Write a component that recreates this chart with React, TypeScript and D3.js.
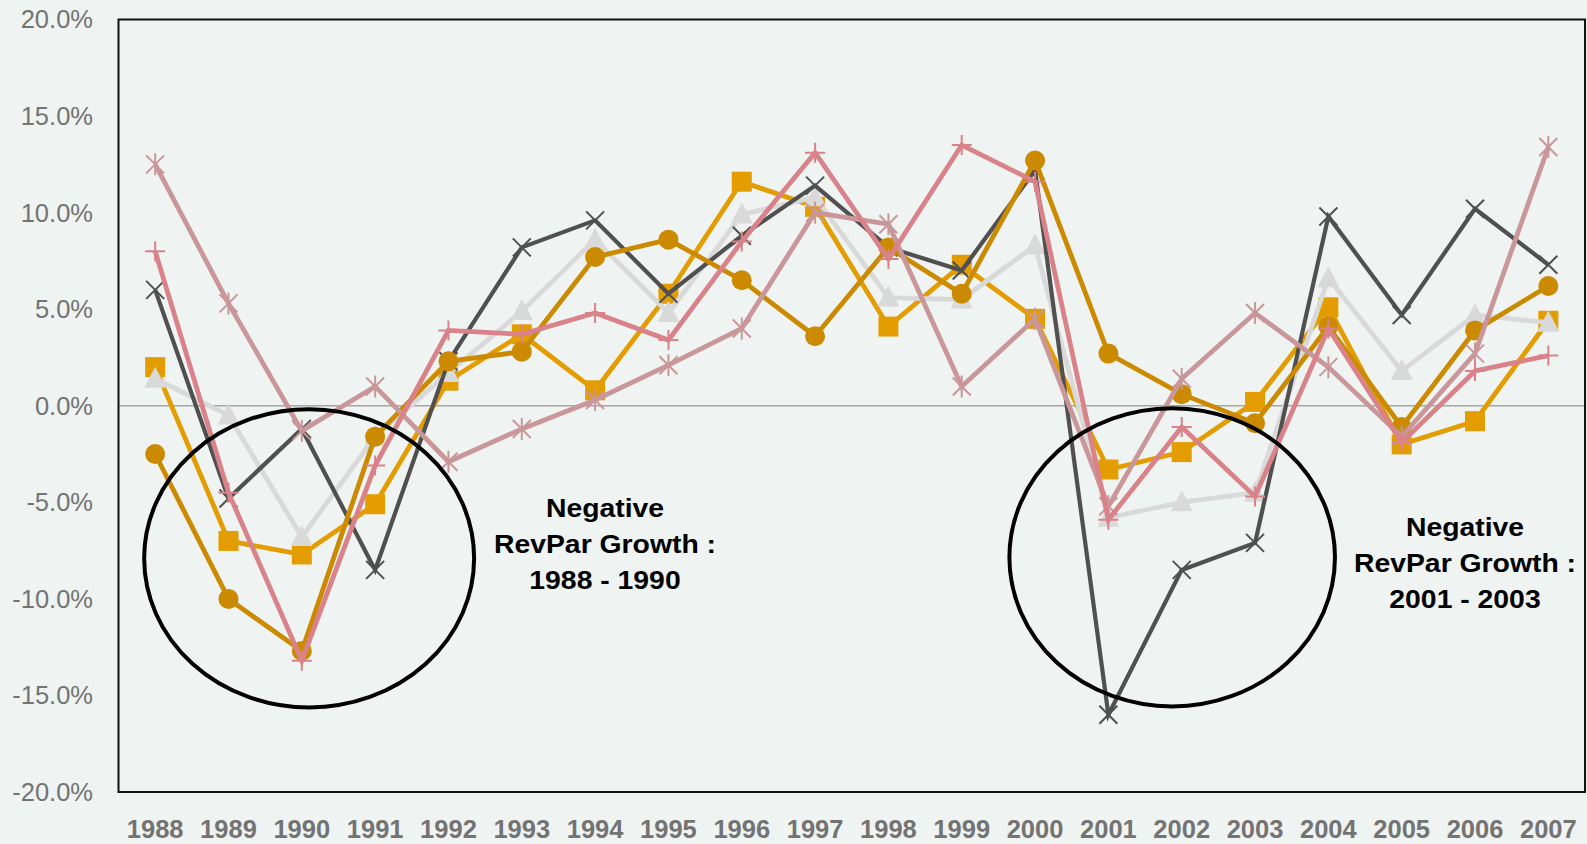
import React from "react";
import * as d3 from "d3";

const years = ["1988","1989","1990","1991","1992","1993","1994","1995","1996","1997","1998","1999","2000","2001","2002","2003","2004","2005","2006","2007"];
const yTicks = [-20, -15, -10, -5, 0, 5, 10, 15, 20];

const seriesDarkGray = [6.0, -4.8, -1.2, -8.5, 2.3, 8.2, 9.6, 5.8, 8.8, 11.4, 8.2, 7.0, 12.2, -16.0, -8.5, -7.1, 9.8, 4.7, 10.2, 7.3];
const seriesLightGray = [1.4, -0.5, -6.8, -1.6, 1.7, 4.9, 8.6, 4.8, 9.9, 10.8, 5.6, 5.5, 8.3, -5.8, -5.0, -4.5, 6.6, 1.8, 4.7, 4.3];
const seriesOrange = [2.0, -7.0, -7.7, -5.1, 1.3, 3.7, 0.8, 5.8, 11.6, 10.3, 4.1, 7.3, 4.5, -3.3, -2.4, 0.2, 5.1, -2.0, -0.8, 4.4];
const seriesGold = [-2.5, -10.0, -12.7, -1.6, 2.3, 2.8, 7.7, 8.6, 6.5, 3.6, 8.2, 5.8, 12.7, 2.7, 0.6, -0.9, 4.1, -1.1, 3.9, 6.2];
const seriesPink = [8.0, -4.5, -13.2, -3.1, 3.9, 3.7, 4.8, 3.4, 8.5, 13.1, 7.6, 13.5, 11.6, -5.9, -1.1, -4.7, 4.0, -1.9, 1.8, 2.6];
const seriesMauve = [12.5, 5.3, -1.3, 1.0, -2.9, -1.2, 0.3, 2.1, 4.0, 10.0, 9.4, 1.0, 4.5, -5.2, 1.4, 4.8, 2.0, -1.6, 2.7, 13.4];

const annotationLines1 = ["Negative", "RevPar Growth :", "1988 - 1990"];
const annotationLines2 = ["Negative", "RevPar Growth :", "2001 - 2003"];

const W = 1587, H = 844;
const L = 118.5, R = 1585, T = 19.5, B = 792;

type Marker = "x" | "triangle" | "square" | "circle" | "plus" | "asterisk";
const series: { values: number[]; color: string; marker: Marker; width: number }[] = [
  { values: seriesOrange, color: "#e39d00", marker: "square", width: 4.8 },
  { values: seriesLightGray, color: "#d9d9d9", marker: "triangle", width: 4.8 },
  { values: seriesDarkGray, color: "#505050", marker: "x", width: 4.2 },
  { values: seriesGold, color: "#cc8a00", marker: "circle", width: 4.8 },
  { values: seriesMauve, color: "#c9979a", marker: "asterisk", width: 4.8 },
  { values: seriesPink, color: "#d98289", marker: "plus", width: 4.8 },
];

function MarkerShape({ type, cx, cy, color }: { type: Marker; cx: number; cy: number; color: string }) {
  const s = 10;
  switch (type) {
    case "circle":
      return <circle cx={cx} cy={cy} r={10} fill={color} />;
    case "square":
      return <rect x={cx - 10} y={cy - 10} width={20} height={20} fill={color} />;
    case "triangle":
      return <path d={`M${cx},${cy - 12}L${cx + 11},${cy + 9}L${cx - 11},${cy + 9}Z`} fill={color} />;
    case "x":
      return (
        <path d={`M${cx - 9},${cy - 9}L${cx + 9},${cy + 9}M${cx - 9},${cy + 9}L${cx + 9},${cy - 9}`} stroke={color} strokeWidth={2} fill="none" />
      );
    case "plus":
      return (
        <path d={`M${cx - s},${cy}L${cx + s},${cy}M${cx},${cy - s}L${cx},${cy + s}`} stroke={color} strokeWidth={2} fill="none" />
      );
    case "asterisk":
      return (
        <path d={`M${cx - 9},${cy - 9}L${cx + 9},${cy + 9}M${cx - 9},${cy + 9}L${cx + 9},${cy - 9}M${cx},${cy - 11}L${cx},${cy + 11}`} stroke={color} strokeWidth={2} fill="none" />
      );
  }
  return null;
}

export default function App() {
  const x = d3.scaleBand<string>().domain(years).range([L, R]).padding(0);
  const bw = x.bandwidth();
  const xc = (yr: string) => (x(yr) as number) + bw / 2;
  const xi = (idx: number) => (x(years[0]) as number) + bw / 2 + idx * bw;
  const y = d3.scaleLinear().domain([-20, 20]).range([B, T]);
  const fmt = (t: number) => d3.format(".1f")(t).replace("\u2212", "-") + "%";

  const line = d3
    .line<number>()
    .x((_, i) => xc(years[i]))
    .y((d) => y(d));

  const ellipses = [
    { ci: 2.1, cv: -7.9, ri: 2.25, rv: 7.72 },
    { ci: 13.87, cv: -7.85, ri: 2.22, rv: 7.72 },
  ];

  const fontFamily = "'Liberation Sans', Arial, Helvetica, sans-serif";

  const annot = [
    { lines: annotationLines1, cx: 605, y0: 517 },
    { lines: annotationLines2, cx: 1465, y0: 536 },
  ];

  return (
    <svg width={W} height={H} style={{ position: "absolute", left: 0, top: 0, display: "block" }} fontFamily={fontFamily}>
      <rect x={0} y={0} width={W} height={H} fill="#eff3f2" />
      <line x1={L} x2={R} y1={y(0)} y2={y(0)} stroke="#a6a6a6" strokeWidth={1.5} />
      <rect x={L} y={T} width={R - L} height={B - T} fill="none" stroke="#111" strokeWidth={2} />
      {yTicks.map((t) => (
        <text key={t} x={93} y={y(t)} dy="0.35em" textAnchor="end" fontSize={25.5} fill="#737373">
          {fmt(t)}
        </text>
      ))}
      {years.map((yr) => (
        <text key={yr} x={xc(yr)} y={838} textAnchor="middle" fontSize={25.5} fontWeight="bold" fill="#737373">
          {yr}
        </text>
      ))}
      {series.map((s, si) => (
        <g key={si}>
          <path d={line(s.values) || ""} fill="none" stroke={s.color} strokeWidth={s.width} strokeLinejoin="miter" />
          {s.values.map((v, i) => (
            <MarkerShape key={i} type={s.marker} cx={xc(years[i])} cy={y(v)} color={s.color} />
          ))}
        </g>
      ))}
      {ellipses.map((e, i) => (
        <ellipse
          key={i}
          cx={xi(e.ci)}
          cy={y(e.cv)}
          rx={e.ri * bw}
          ry={y(0) - y(e.rv)}
          fill="none"
          stroke="#000"
          strokeWidth={4}
        />
      ))}
      {annot.map((a, ai) => (
        <g key={ai} transform={`translate(${a.cx},0) scale(1.07,1)`}>
          {a.lines.map((ln, li) => (
            <text key={li} x={0} y={a.y0 + li * 35.8} textAnchor="middle" fontSize={26.5} fontWeight="bold" fill="#000">
              {ln}
            </text>
          ))}
        </g>
      ))}
    </svg>
  );
}
